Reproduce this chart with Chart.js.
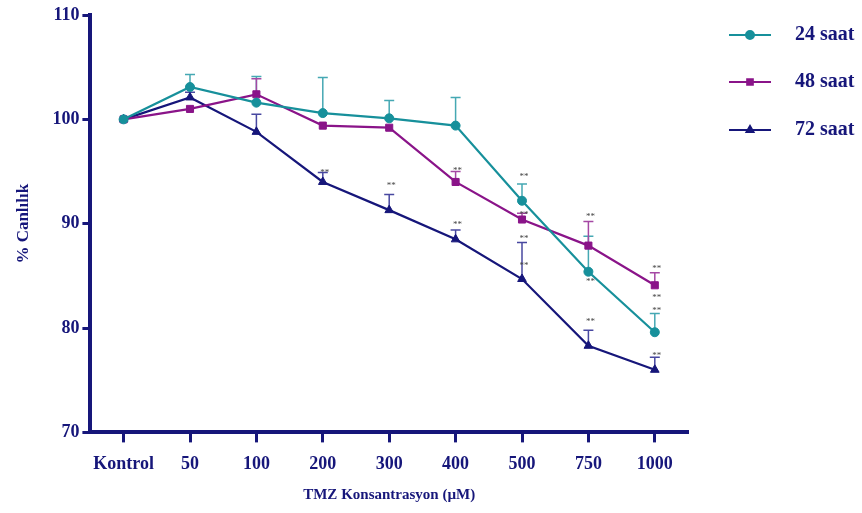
<!DOCTYPE html>
<html>
<head>
<meta charset="utf-8">
<script src="https://cdn.jsdelivr.net/npm/chart.js@4"></script>
<style>
  html, body { margin: 0; padding: 0; background: #fff; }
  #wrap { width: 862px; height: 513px; position: relative; }
</style>
</head>
<body>
<div id="wrap"><canvas id="myChart" width="862" height="513"></canvas></div>
<script>
var categories = ['Kontrol', '50', '100', '200', '300', '400', '500', '750', '1000'];
var s24 = [100, 103.1, 101.6, 100.6, 100.1, 99.4, 92.2, 85.4, 79.6];
var e24 = [0, 1.2, 2.5, 3.4, 1.7, 2.7, 1.6, 3.4, 1.8];
var s48 = [100, 101.0, 102.4, 99.4, 99.2, 94.0, 90.4, 87.9, 84.1];
var e48 = [0, 0, 1.5, 0, 0, 1.0, 0.6, 2.3, 1.2];
var s72 = [100, 102.1, 98.8, 94.0, 91.3, 88.5, 84.7, 78.3, 76.0];
var e72 = [0, 0.5, 1.7, 0.9, 1.5, 0.9, 3.5, 1.5, 1.2];
// "**" marks, value where they sit (null = none)
var star24 = [null, null, null, null, null, null, 94.5, 84.4, 82.9];
var star48 = [null, null, null, null, null, 95.1, 90.9, 90.7, 85.7];
var star72 = [null, null, null, 94.9, 93.6, 89.9, 88.6, 80.6, 77.4];
var starExtra = [[6, 86.0], [8, 81.7]];
var yTicks = [70, 80, 90, 100, 110];

var navy = '#16167a';
var font = '"Liberation Serif", "DejaVu Serif", serif';

var errorBars = {
    id: 'errorBars',
    beforeDatasetsDraw: function(chart) {
        var ctx = chart.ctx;
        var y = chart.scales.y;
        chart.data.datasets.forEach(function(ds, i) {
            var meta = chart.getDatasetMeta(i);
            ctx.save();
            ctx.strokeStyle = ds.errColor;
            ctx.lineWidth = 1.5;
            meta.data.forEach(function(pt, j) {
                var err = ds.errors[j];
                if (!err) return;
                var top = y.getPixelForValue(ds.data[j] + err);
                ctx.beginPath();
                ctx.moveTo(pt.x, pt.y);
                ctx.lineTo(pt.x, top);
                ctx.moveTo(pt.x - 5, top);
                ctx.lineTo(pt.x + 5, top);
                ctx.stroke();
            });
            ctx.restore();
        });
    },
    afterDatasetsDraw: function(chart) {
        var ctx = chart.ctx;
        var x = chart.scales.x, y = chart.scales.y;
        ctx.save();
        ctx.fillStyle = '#444';
        ctx.font = '9px ' + font;
        ctx.textAlign = 'center';
        ctx.textBaseline = 'middle';
        [star24, star48, star72].forEach(function(arr) {
            arr.forEach(function(v, j) {
                if (v == null) return;
                ctx.fillText('**', x.getPixelForValue(j) + 2, y.getPixelForValue(v));
            });
        });
        starExtra.forEach(function(s) {
            ctx.fillText('**', x.getPixelForValue(s[0]) + 2, y.getPixelForValue(s[1]));
        });
        ctx.restore();
    }
};

var sideLegend = {
    id: 'sideLegend',
    afterDraw: function(chart) {
        var ctx = chart.ctx;
        var rows = [35, 82, 130];
        chart.data.datasets.forEach(function(ds, i) {
            var yy = rows[i];
            ctx.save();
            ctx.strokeStyle = ds.borderColor;
            ctx.lineWidth = 2;
            ctx.beginPath();
            ctx.moveTo(729, yy);
            ctx.lineTo(771, yy);
            ctx.stroke();
            Chart.helpers.drawPoint(ctx, {pointStyle: ds.pointStyle, radius: 4, borderWidth: 1}, 750, yy);
            ctx.fillStyle = ds.borderColor;
            ctx.fill();
            ctx.fillStyle = navy;
            ctx.font = 'bold 20px ' + font;
            ctx.textAlign = 'left';
            ctx.textBaseline = 'middle';
            ctx.fillText(ds.label, 795, yy);
            ctx.restore();
        });
    }
};

var ctx2 = document.getElementById('myChart').getContext('2d');
var chart = new Chart(ctx2, {
    type: 'line',
    data: {
        labels: categories,
        datasets: [{
            label: '24 saat',
            data: s24,
            errors: e24,
            borderColor: '#17909b',
            backgroundColor: '#17909b',
            errColor: '#45a8b3',
            pointStyle: 'circle',
            pointRadius: 4.5
        }, {
            label: '48 saat',
            data: s48,
            errors: e48,
            borderColor: '#8a1489',
            backgroundColor: '#8a1489',
            errColor: '#a548a4',
            pointStyle: 'rect',
            pointRadius: 5
        }, {
            label: '72 saat',
            data: s72,
            errors: e72,
            borderColor: '#16167a',
            backgroundColor: '#16167a',
            errColor: '#4848a0',
            pointStyle: 'triangle',
            pointRadius: 5
        }]
    },
    options: {
        responsive: false,
        animation: false,
        layout: { padding: { top: 15, right: 174, left: 9, bottom: 5 } },
        elements: { line: { borderWidth: 2.2, tension: 0 } },
        plugins: { legend: { display: false }, tooltip: { enabled: false } },
        scales: {
            x: {
                offset: true,
                grid: { display: true, drawOnChartArea: false, tickLength: 10, tickWidth: 3, tickColor: navy, offset: false },
                border: { display: true, color: navy, width: 4 },
                ticks: { color: navy, font: { family: font, size: 18, weight: 'bold' }, padding: 11, maxRotation: 0 },
                title: { display: true, text: 'TMZ Konsantrasyon (µM)', color: navy, font: { family: font, size: 15, weight: 'bold' }, padding: { top: 0 } }
            },
            y: {
                min: 70,
                max: 110,
                afterBuildTicks: function(axis) {
                    axis.ticks = yTicks.map(function(v) { return { value: v }; });
                },
                grid: { display: true, drawOnChartArea: false, tickLength: 8, tickWidth: 3, tickColor: navy },
                border: { display: true, color: navy, width: 4 },
                ticks: { color: navy, font: { family: font, size: 18, weight: 'bold' }, padding: 3 },
                title: { display: true, text: '% Canlılık', color: navy, font: { family: font, size: 17, weight: 'bold' }, padding: { bottom: 16 } }
            }
        }
    },
    plugins: [errorBars, sideLegend]
});
</script>
</body>
</html>
